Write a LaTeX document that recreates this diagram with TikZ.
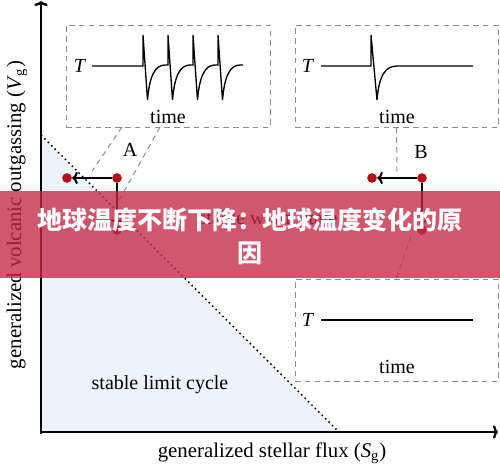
\documentclass[tikz,border=0pt]{standalone}
\usepackage{fontspec}
\setmainfont{Liberation Serif}
\newfontfamily\cjk{Noto Sans CJK SC}
\usetikzlibrary{arrows.meta}
\definecolor{regionblue}{RGB}{238,242,251}
\definecolor{dotred}{RGB}{180,16,24}
\definecolor{bannerred}{RGB}{196,40,70}
\definecolor{dashgray}{RGB}{140,140,140}
\tikzset{
	panel/.style={draw=dashgray, line width=0.6pt, dash pattern=on 3.3pt off 2.6pt, inner sep=0pt, minimum width=122.4pt, minimum height=61.2pt},
	callout/.style={draw=dashgray, line width=0.6pt, dash pattern=on 3.3pt off 2.6pt},
	trace/.style={line width=0.8pt, line join=miter},
	dot/.style={circle, fill=dotred, inner sep=0pt, minimum size=5.8pt},
	txt/.style={font=\fontsize{12}{14}\selectfont, inner sep=0pt},
	axistxt/.style={font=\fontsize{12.5}{15}\selectfont, inner sep=0pt},
	shiftarrow/.style={line width=1.2pt, -{To[length=3.4pt, width=7.5pt]}},
	axisline/.style={line width=1.4pt, -{To[length=3pt, width=8pt]}}
}

\begin{document}
\begin{tikzpicture}[x=0.6pt, y=-0.6pt]
		%%%%% START %%%%%
		\useasboundingbox (0,0) rectangle (500,470);
		
		\coordinate (origin) at (41,432);
		\coordinate (ytop) at (41,135);
		\coordinate (xend) at (339,432);
		\fill[regionblue] (ytop) -- (origin) -- (xend) -- cycle;
		\draw[line width=0.9pt, dotted] (ytop) -- (xend);
		
		\draw[axisline] (41,433.5) -- (41,1);
		\draw[axisline] (40.3,432) -- (498,432);
		
		\node[axistxt] (xlabel) at (272,453) {generalized stellar flux (\textit{S}\textsubscript{g})};
		\node[axistxt, rotate=90] (ylabel) at (17,215) {generalized volcanic outgassing (\textit{V}\textsubscript{g})};
		\node[txt] (limit) at (160,385) {stable limit cycle};
		\node[txt] (warm) at (268,218) {stable warm state};
		
		\node[panel] (panelA) at (168,76) {};
		\node[panel, minimum width=121.8pt] (panelB) at (396.5,76) {};
		\node[panel, minimum width=121.8pt] (panelC) at (396.5,330) {};
		
		\node[txt] (TA) at (80,66) {\textit{T}};
		\node[txt] (timeA) at (168,117) {time};
		\draw[trace] (92,66) -- (143,66)
			\foreach \s in {143,168,193,218} { -- (\s,35) -- (\s+4.5,100) .. controls (\s+6.5,76) and (\s+12,65) .. (\s+22,65) -- (\s+25,65) };
		
		\node[txt] (TB) at (308,66) {\textit{T}};
		\node[txt] (timeB) at (397,117) {time};
		\draw[trace] (321,66) -- (371,66) -- (371,35) -- (377,100) .. controls (379,76) and (385,66) .. (397,66) -- (473,66);
		
		\node[txt] (TC) at (308,320) {\textit{T}};
		\node[txt] (timeC) at (397,367) {time};
		\draw[trace] (321,320) -- (473,320);
		
		\node[txt] (labA) at (130,150) {A};
		\node[txt] (labB) at (421,152) {B};
		
		\node[dot] (A0) at (117,178) {};
		\node[dot] (A1) at (67,178) {};
		\node[dot] (A2) at (117,230) {};
		\node[dot] (B0) at (422,178) {};
		\node[dot] (B1) at (372,178) {};
		\node[dot] (B2) at (422,230) {};
		
		\draw[shiftarrow] (A0) -- node[coordinate, pos=0.5] (Ah) {} (A1);
		\draw[shiftarrow] (A0) -- node[coordinate, pos=0.5] (Av) {} (A2);
		\draw[shiftarrow] (B0) -- node[coordinate, pos=0.5] (Bh) {} (B1);
		\draw[shiftarrow] (B0) -- node[coordinate, pos=0.5] (Bv) {} (B2);
		
		\coordinate (pA1) at (122,127);
		\coordinate (pA2) at (160,127);
		\draw[callout] (pA1) -- ([yshift=4pt]Ah);
		\draw[callout] (pA2) -- (Av);
		\draw[callout] (panelB.south) -- ([yshift=4pt]Bh);
		\draw[callout] (panelC.north) -- (Bv);
		
		\fill[bannerred, opacity=0.78] (0,191) rectangle (500,278);
		\node[text=white, font=\cjk\bfseries\fontsize{15}{19.8}\selectfont, align=center, inner sep=0pt] (banner) at (250,236) {地球温度不断下降：地球温度变化的原\\因};
		%%%%% END %%%%%
	\end{tikzpicture}
\end{document}
